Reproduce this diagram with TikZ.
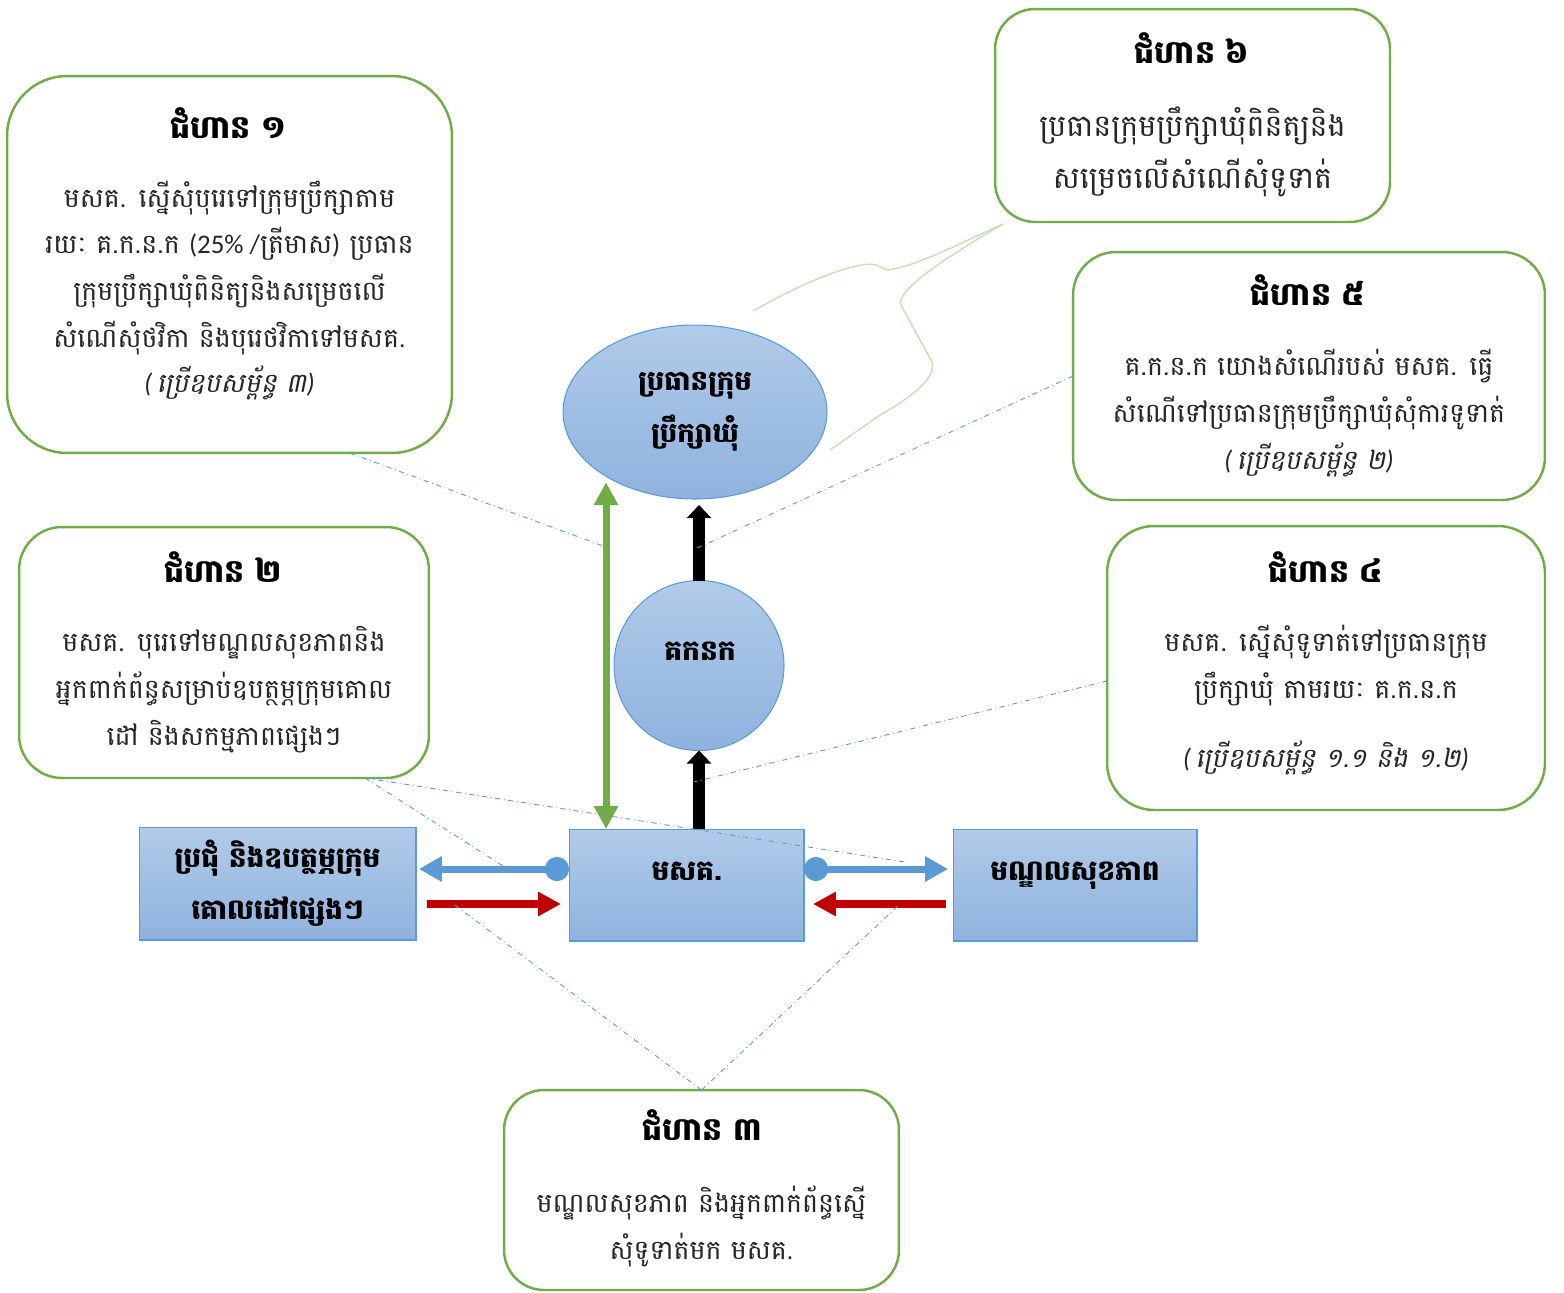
\documentclass[tikz,border=0pt]{standalone}
\usepackage{fontspec}
\setmainfont{Carlito}
\newfontfamily\khmer[Script=Khmer]{Battambang}
\newfontfamily\khmerit[Script=Khmer,FakeSlant=0.2]{Battambang}
\usetikzlibrary{shapes.geometric,arrows.meta,calc,positioning}

\definecolor{stepgreen}{RGB}{112,173,71}
\definecolor{palegreen}{RGB}{197,224,180}
\definecolor{shapeblue}{RGB}{91,155,213}
\definecolor{topblue}{RGB}{177,203,233}
\definecolor{botblue}{RGB}{143,178,222}
\definecolor{arrowred}{RGB}{192,0,0}
\definecolor{txt}{RGB}{38,38,38}

\newcommand{\opar}{{\rmfamily\itshape(}\kern2.5pt}
\newcommand{\cpar}{{\rmfamily\itshape)}}

\tikzset{
  stepbox/.style={draw=stepgreen, line width=1.4pt, inner sep=0pt, outer sep=0pt},
  steptitle/.style={anchor=base, inner sep=0pt, font=\fontsize{18}{20}\selectfont\khmer\bfseries},
  steptext/.style={anchor=base, inner sep=0pt, text height=11pt, text depth=4pt, text=txt,
    font=\fontsize{15.3}{17}\selectfont\khmer},
  stepnote/.style={steptext, font=\fontsize{15.3}{17}\selectfont\khmerit},
  bluebox/.style={draw=shapeblue, line width=0.6pt, top color=topblue, bottom color=botblue,
    inner sep=0pt, outer sep=0pt},
  bluelabel/.style={anchor=base, inner sep=0pt, font=\fontsize{16}{29.6}\selectfont\khmer\bfseries},
  callout/.style={draw=shapeblue, line width=0.5pt, dash dot},
  bracelink/.style={draw=palegreen, line width=0.8pt},
  greenarr/.style={draw=stepgreen, line width=4pt,
    arrows={Triangle[width=13pt,length=13pt]-Triangle[width=13pt,length=13pt]}},
  blackarr/.style={draw=black, line width=6.8pt, arrows={-Triangle[width=13.7pt,length=7.5pt]}},
  bluearr/.style={draw=shapeblue, line width=4pt,
    arrows={Circle[length=13.7pt]-Triangle[width=13.7pt,length=13pt]}},
  redarr/.style={draw=arrowred, line width=4.5pt, arrows={-Triangle[width=13pt,length=13pt]}}
}

\begin{document}
\begin{tikzpicture}[x=0.02cm,y=-0.02cm]
\useasboundingbox (0,0) rectangle (1564,1292);

% step boxes
\node[stepbox, rounded corners=1.2cm, minimum width=8.9cm, minimum height=7.54cm] (step1) at (229.5,264.5) {};
\node[stepbox, rounded corners=0.8cm, minimum width=7.9cm, minimum height=4.26cm] (step6) at (1192.5,115.5) {};
\node[stepbox, rounded corners=0.86cm, minimum width=9.44cm, minimum height=4.96cm] (step5) at (1309,376) {};
\node[stepbox, rounded corners=0.86cm, minimum width=8.2cm, minimum height=5.02cm] (step2) at (224,652.5) {};
\node[stepbox, rounded corners=0.94cm, minimum width=8.76cm, minimum height=5.68cm] (step4) at (1326,668) {};
\node[stepbox, rounded corners=0.8cm, minimum width=7.9cm, minimum height=4cm] (step3) at (701.5,1190) {};

% step texts
\node[steptitle] (t1) at (228,138) {ជំហាន ១};
\foreach \y/\t [count=\i] in {207/{មសគ. ស្នើសុំបុរេទៅក្រុមប្រឹក្សាតាម},
    253/{រយៈ គ.ក.ន.ក {\rmfamily(25\% /}ត្រីមាស{\rmfamily)} ប្រធាន},
    300/{ក្រុមប្រឹក្សាឃុំពិនិត្យនិងសម្រេចលើ},
    347/{សំណើសុំថវិកា និងបុរេថវិកាទៅមសគ.}}
  {\node[steptext] (s1l\i) at (229.5,\y) {\t};}
\node[stepnote] (n1) at (229.5,392) {\opar ប្រើឧបសម្ព័ន្ធ ៣\cpar};

\node[steptitle] (t6) at (1192,63) {ជំហាន ៦};
\foreach \y/\t [count=\i] in {136/{ប្រធានក្រុមប្រឹក្សាឃុំពិនិត្យនិង},
    188/{សម្រេចលើសំណើសុំទូទាត់}}
  {\node[steptext, font=\fontsize{17.2}{19}\selectfont\khmer] (s6l\i) at (1192.5,\y) {\t};}

\node[steptitle] (t5) at (1308,305) {ជំហាន ៥};
\foreach \y/\t [count=\i] in {375/{គ.ក.ន.ក យោងសំណើរបស់ មសគ. ធ្វើ},
    422/{សំណើទៅប្រធានក្រុមប្រឹក្សាឃុំសុំការទូទាត់}}
  {\node[steptext] (s5l\i) at (1309,\y) {\t};}
\node[stepnote] (n5) at (1309,469) {\opar ប្រើឧបសម្ព័ន្ធ ២\cpar};

\node[steptitle] (t2) at (223,582) {ជំហាន ២};
\foreach \y/\t [count=\i] in {651/{មសគ. បុរេទៅមណ្ឌលសុខភាពនិង},
    698/{អ្នកពាក់ព័ន្ធសម្រាប់ឧបត្ថម្ភក្រុមគោល},
    745/{ដៅ និងសកម្មភាពផ្សេងៗ}}
  {\node[steptext] (s2l\i) at (224,\y) {\t};}

\node[steptitle] (t4) at (1326,582) {ជំហាន ៤};
\foreach \y/\t [count=\i] in {651/{មសគ. ស្នើសុំទូទាត់ទៅប្រធានក្រុម},
    698/{ប្រឹក្សាឃុំ តាមរយៈ គ.ក.ន.ក}}
  {\node[steptext] (s4l\i) at (1326,\y) {\t};}
\node[stepnote] (n4) at (1326,767) {\opar ប្រើឧបសម្ព័ន្ធ ១.១ និង ១.២\cpar};

\node[steptitle] (t3) at (702,1140) {ជំហាន ៣};
\foreach \y/\t [count=\i] in {1212/{មណ្ឌលសុខភាព និងអ្នកពាក់ព័ន្ធស្នើ},
    1259/{សុំទូទាត់មក មសគ.}}
  {\node[steptext] (s3l\i) at (701.5,\y) {\t};}

% blue shapes
\node[bluebox, ellipse, minimum width=5.28cm, minimum height=3.48cm, align=center,
  font=\fontsize{15.7}{29.6}\selectfont\khmer\bfseries] (chief) at (695,412) {ប្រធានក្រុម\\ប្រឹក្សាឃុំ};
\node[bluebox, circle, minimum size=3.4cm] (gkk) at (699,665.5) {};
\node[bluelabel] (gkktext) at (700,660) {គកនក};
\node[bluebox, minimum width=5.54cm, minimum height=2.26cm, align=center,
  font=\fontsize{16}{29.6}\selectfont\khmer\bfseries] (meeting) at (277.5,883.5) {ប្រជុំ និងឧបត្ថម្ភក្រុម\\គោលដៅផ្សេងៗ};
\node[bluebox, minimum width=4.7cm, minimum height=2.24cm] (mskt) at (686.5,885) {};
\node[bluelabel] (msktext) at (686.5,880) {មសគ.};
\node[bluebox, minimum width=4.88cm, minimum height=2.24cm] (health) at (1075,885) {};
\node[bluelabel] (healthtext) at (1075,880) {មណ្ឌលសុខភាព};

% arrows
\coordinate (garr) at ([shift={(37,0)}]mskt.north west);
\draw[greenarr] (garr) -- (garr |- chief.-138);
\draw[blackarr] (gkk.south |- mskt.north) -- (gkk.south);
\draw[blackarr] (gkk.north) -- ($(gkk.north |- chief.south)+(0,6)$);
\draw[bluearr] ([shift={(0,-16)}]mskt.west) -- ([shift={(3,-14.5)}]meeting.east);
\draw[bluearr] ([shift={(0,-16)}]mskt.east) -- ([shift={(-5,-16)}]health.west);
\draw[redarr] ([shift={(11,20.5)}]meeting.east) -- ([shift={(-8,19)}]mskt.west);
\draw[redarr] ([shift={(-7,19)}]health.west) -- ([shift={(9,19)}]mskt.east);

% step 6 link
\coordinate (s6) at ([shift={(8,2)}]step6.south west);
\draw[bracelink] (s6) .. controls (960,243) and (920,265) .. (888,270)
  .. controls (883,270) and (882,265) .. (870,264) .. controls (840,266) and (790,290) .. (753,311);
\draw[bracelink] (s6) .. controls (950,255) and (895,290) .. (901,305) -- (932,362)
  .. controls (936,372) and (925,390) .. (880,415) -- (830,450);

% callouts
\coordinate (c1) at (606,547);
\coordinate (c2a) at (905,862);
\coordinate (c2b) at (503,866);
\coordinate (c3a) at (455,905);
\coordinate (c3b) at (900,904);
\draw[callout] ([shift={(120,0)}]step1.south) -- (c1);
\draw[callout] (step5.west) -- ($(gkk.north)!0.4!(chief.south)$);
\draw[callout] ([shift={(0,13)}]step4.west) -- ($(gkk.south)!0.4!(mskt.north)$);
\draw[callout] ([shift={(141,0)}]step2.south) -- (c2a);
\draw[callout] ([shift={(141,0)}]step2.south) -- (c2b);
\draw[callout] (step3.north) -- (c3a);
\draw[callout] (step3.north) -- (c3b);
\end{tikzpicture}
\end{document}
